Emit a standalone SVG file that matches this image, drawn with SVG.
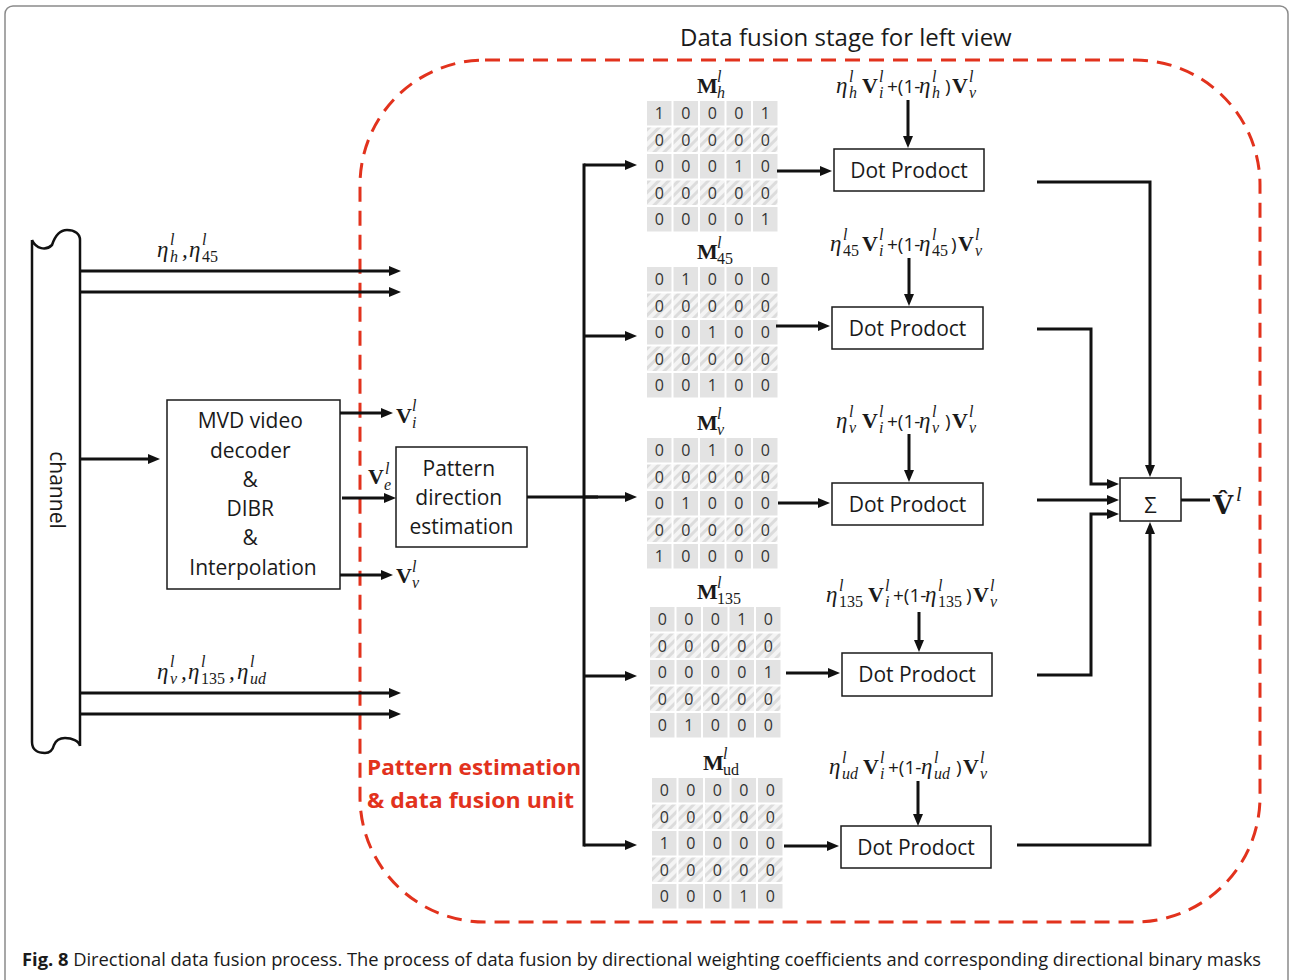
<svg xmlns="http://www.w3.org/2000/svg" width="1291" height="980" viewBox="0 0 1291 980">
<style>
  .sans{font-family:"Open Sans","Liberation Sans",sans-serif;fill:#1a1a1a}
  .lbl{font-size:21px;text-anchor:middle}
  .ser{font-family:"Liberation Serif","DejaVu Serif",serif;fill:#1a1a1a}
  .e{font-style:italic;font-size:23px}
  .bv{font-weight:bold;font-size:22px}
  .sc{font-style:italic;font-size:16px}
  .sn{font-size:16px}
  .op{font-family:"Open Sans","Liberation Sans",sans-serif;font-size:19px}
  .box{fill:#fff;stroke:#1a1a1a;stroke-width:1.5}
  .w{fill:none;stroke:#111;stroke-width:3}
  .a{marker-end:url(#ah)}
  .dg{font-family:"Open Sans","Liberation Sans",sans-serif;font-size:16px;fill:#333;text-anchor:middle}
  .red{font-family:"Open Sans","Liberation Sans",sans-serif;font-weight:bold;font-size:22px;fill:#e2321d}
</style>
<defs>
  <marker id="ah" markerUnits="userSpaceOnUse" markerWidth="12" markerHeight="10" refX="6" refY="5" orient="auto">
    <path d="M0,0 L12,5 L0,10 z" fill="#111"/>
  </marker>
  <pattern id="hatch" width="7" height="7" patternUnits="userSpaceOnUse" patternTransform="rotate(45)">
    <rect width="7" height="7" fill="#f4f4f4"/>
    <rect width="3" height="7" fill="#dcdcdc"/>
  </pattern>
  <!-- one 5-cell row of a binary mask, plain and hatched -->
  <g id="rs" fill="#e3e3e3">
    <rect x="0" width="24.5" height="24.5"/><rect x="26.5" width="24.5" height="24.5"/><rect x="53" width="24.5" height="24.5"/><rect x="79.5" width="24.5" height="24.5"/><rect x="106" width="24.5" height="24.5"/>
  </g>
  <g id="rh" fill="url(#hatch)">
    <rect x="0" width="24.5" height="24.5"/><rect x="26.5" width="24.5" height="24.5"/><rect x="53" width="24.5" height="24.5"/><rect x="79.5" width="24.5" height="24.5"/><rect x="106" width="24.5" height="24.5"/>
  </g>
  <g id="grid">
    <use href="#rs"/><use href="#rh" y="26.5"/><use href="#rs" y="53"/><use href="#rh" y="79.5"/><use href="#rs" y="106"/>
  </g>
</defs>

<rect width="1291" height="980" fill="#fff"/>
<!-- figure frame -->
<rect x="5" y="6" width="1283" height="1000" rx="8" fill="none" stroke="#8a8a8a" stroke-width="1.5"/>

<!-- unit boundary -->
<rect x="360" y="60" width="900" height="862" rx="125" fill="none" stroke="#e2321d" stroke-width="3" stroke-dasharray="15 9"/>
<text class="sans" x="680" y="46" font-size="24">Data fusion stage for left view</text>
<text class="red" x="367" y="775" textLength="214" lengthAdjust="spacingAndGlyphs">Pattern estimation</text>
<text class="red" x="367" y="808" textLength="207" lengthAdjust="spacingAndGlyphs">&amp; data fusion unit</text>

<!-- channel -->
<g id="channel">
  <path d="M32,240 C36,249 46,251 52,245 C55,236 60,230 67,230 C75,230 80,234 80,240 V746 M32,240 V742 C32,750 38,753 45,753 C51,753 53,749 54,745 C56,740 60,738 65,738 C72,738 79,741 80,746" fill="none" stroke="#111" stroke-width="2.5"/>
  <text class="sans" font-size="21" text-anchor="middle" transform="translate(50,490) rotate(90)">channel</text>
</g>

<!-- decoder -->
<g id="decoder">
  <rect class="box" x="167" y="400" width="173" height="189"/>
  <text class="sans lbl" x="253">
    <tspan x="253" y="428">MVD video</tspan>
    <tspan x="253" y="458">decoder</tspan>
    <tspan x="253" y="487">&amp;</tspan>
    <tspan x="253" y="516">DIBR</tspan>
    <tspan x="253" y="545">&amp;</tspan>
    <tspan x="253" y="575">Interpolation</tspan>
  </text>
</g>

<!-- pattern direction estimation -->
<g id="pattern">
  <rect class="box" x="396" y="447" width="131" height="100"/>
  <text class="sans lbl">
    <tspan x="461.5" y="476">Pattern</tspan>
    <tspan x="461.5" y="505">direction</tspan>
    <tspan x="461.5" y="534">estimation</tspan>
  </text>
</g>

<!-- binary masks -->
<g id="mask-h" transform="translate(647,101)">
  <use href="#grid"/>
  <text class="dg" x="12.25 38.75 65.25 91.75 118.25" y="18">10001</text>
  <text class="dg" x="12.25 38.75 65.25 91.75 118.25" y="44.5">00000</text>
  <text class="dg" x="12.25 38.75 65.25 91.75 118.25" y="71">00010</text>
  <text class="dg" x="12.25 38.75 65.25 91.75 118.25" y="97.5">00000</text>
  <text class="dg" x="12.25 38.75 65.25 91.75 118.25" y="124">00001</text>
  <text class="ser"><tspan class="bv" x="50" y="-8">M</tspan><tspan class="sc" x="70" y="-19">l</tspan><tspan class="sc" x="70" y="-3">h</tspan></text>
</g>
<g id="mask-45" transform="translate(647,267)">
  <use href="#grid"/>
  <text class="dg" x="12.25 38.75 65.25 91.75 118.25" y="18">01000</text>
  <text class="dg" x="12.25 38.75 65.25 91.75 118.25" y="44.5">00000</text>
  <text class="dg" x="12.25 38.75 65.25 91.75 118.25" y="71">00100</text>
  <text class="dg" x="12.25 38.75 65.25 91.75 118.25" y="97.5">00000</text>
  <text class="dg" x="12.25 38.75 65.25 91.75 118.25" y="124">00100</text>
  <text class="ser"><tspan class="bv" x="50" y="-8">M</tspan><tspan class="sc" x="70" y="-19">l</tspan><tspan class="sn" x="70" y="-3">45</tspan></text>
</g>
<g id="mask-v" transform="translate(647,438)">
  <use href="#grid"/>
  <text class="dg" x="12.25 38.75 65.25 91.75 118.25" y="18">00100</text>
  <text class="dg" x="12.25 38.75 65.25 91.75 118.25" y="44.5">00000</text>
  <text class="dg" x="12.25 38.75 65.25 91.75 118.25" y="71">01000</text>
  <text class="dg" x="12.25 38.75 65.25 91.75 118.25" y="97.5">00000</text>
  <text class="dg" x="12.25 38.75 65.25 91.75 118.25" y="124">10000</text>
  <text class="ser"><tspan class="bv" x="50" y="-8">M</tspan><tspan class="sc" x="70" y="-19">l</tspan><tspan class="sc" x="70" y="-3">v</tspan></text>
</g>
<g id="mask-135" transform="translate(650,607)">
  <use href="#grid"/>
  <text class="dg" x="12.25 38.75 65.25 91.75 118.25" y="18">00010</text>
  <text class="dg" x="12.25 38.75 65.25 91.75 118.25" y="44.5">00000</text>
  <text class="dg" x="12.25 38.75 65.25 91.75 118.25" y="71">00001</text>
  <text class="dg" x="12.25 38.75 65.25 91.75 118.25" y="97.5">00000</text>
  <text class="dg" x="12.25 38.75 65.25 91.75 118.25" y="124">01000</text>
  <text class="ser"><tspan class="bv" x="47" y="-8">M</tspan><tspan class="sc" x="67" y="-19">l</tspan><tspan class="sn" x="67" y="-3">135</tspan></text>
</g>
<g id="mask-ud" transform="translate(652,778)">
  <use href="#grid"/>
  <text class="dg" x="12.25 38.75 65.25 91.75 118.25" y="18">00000</text>
  <text class="dg" x="12.25 38.75 65.25 91.75 118.25" y="44.5">00000</text>
  <text class="dg" x="12.25 38.75 65.25 91.75 118.25" y="71">10000</text>
  <text class="dg" x="12.25 38.75 65.25 91.75 118.25" y="97.5">00000</text>
  <text class="dg" x="12.25 38.75 65.25 91.75 118.25" y="124">00010</text>
  <text class="ser"><tspan class="bv" x="51" y="-8">M</tspan><tspan class="sc" x="71" y="-19">l</tspan><tspan class="sn" x="71" y="-3">ud</tspan></text>
</g>

<!-- weighted view blends -->
<g id="blend-h"><text class="ser"><tspan class="e" x="836" y="93">η</tspan><tspan class="sc" x="849" y="82">l</tspan><tspan class="sc" x="849" y="98">h</tspan><tspan class="bv" x="862" y="93">V</tspan><tspan class="sc" x="879" y="82">l</tspan><tspan class="sc" x="879" y="98">i</tspan><tspan class="op" x="887" y="93">+(1-</tspan><tspan class="e" x="919" y="93">η</tspan><tspan class="sc" x="932" y="82">l</tspan><tspan class="sc" x="932" y="98">h</tspan><tspan class="op" x="945" y="93">)</tspan><tspan class="bv" x="952" y="93">V</tspan><tspan class="sc" x="969" y="82">l</tspan><tspan class="sc" x="969" y="98">v</tspan></text></g>
<g id="blend-45"><text class="ser"><tspan class="e" x="830" y="251">η</tspan><tspan class="sc" x="843" y="240">l</tspan><tspan class="sn" x="843" y="256">45</tspan><tspan class="bv" x="862" y="251">V</tspan><tspan class="sc" x="879" y="240">l</tspan><tspan class="sc" x="879" y="256">i</tspan><tspan class="op" x="887" y="251">+(1-</tspan><tspan class="e" x="919" y="251">η</tspan><tspan class="sc" x="932" y="240">l</tspan><tspan class="sn" x="932" y="256">45</tspan><tspan class="op" x="951" y="251">)</tspan><tspan class="bv" x="958" y="251">V</tspan><tspan class="sc" x="975" y="240">l</tspan><tspan class="sc" x="975" y="256">v</tspan></text></g>
<g id="blend-v"><text class="ser"><tspan class="e" x="836" y="428">η</tspan><tspan class="sc" x="849" y="417">l</tspan><tspan class="sc" x="849" y="433">v</tspan><tspan class="bv" x="862" y="428">V</tspan><tspan class="sc" x="879" y="417">l</tspan><tspan class="sc" x="879" y="433">i</tspan><tspan class="op" x="887" y="428">+(1-</tspan><tspan class="e" x="919" y="428">η</tspan><tspan class="sc" x="932" y="417">l</tspan><tspan class="sc" x="932" y="433">v</tspan><tspan class="op" x="945" y="428">)</tspan><tspan class="bv" x="952" y="428">V</tspan><tspan class="sc" x="969" y="417">l</tspan><tspan class="sc" x="969" y="433">v</tspan></text></g>
<g id="blend-135"><text class="ser"><tspan class="e" x="826" y="602">η</tspan><tspan class="sc" x="839" y="591">l</tspan><tspan class="sn" x="839" y="607">135</tspan><tspan class="bv" x="868" y="602">V</tspan><tspan class="sc" x="885" y="591">l</tspan><tspan class="sc" x="885" y="607">i</tspan><tspan class="op" x="893" y="602">+(1-</tspan><tspan class="e" x="925" y="602">η</tspan><tspan class="sc" x="938" y="591">l</tspan><tspan class="sn" x="938" y="607">135</tspan><tspan class="op" x="966" y="602">)</tspan><tspan class="bv" x="973" y="602">V</tspan><tspan class="sc" x="990" y="591">l</tspan><tspan class="sc" x="990" y="607">v</tspan></text></g>
<g id="blend-ud"><text class="ser"><tspan class="e" x="829" y="774">η</tspan><tspan class="sc" x="842" y="763">l</tspan><tspan class="sc" x="842" y="779">ud</tspan><tspan class="bv" x="863" y="774">V</tspan><tspan class="sc" x="880" y="763">l</tspan><tspan class="sc" x="880" y="779">i</tspan><tspan class="op" x="888" y="774">+(1-</tspan><tspan class="e" x="921" y="774">η</tspan><tspan class="sc" x="934" y="763">l</tspan><tspan class="sc" x="934" y="779">ud</tspan><tspan class="op" x="956" y="774">)</tspan><tspan class="bv" x="963" y="774">V</tspan><tspan class="sc" x="980" y="763">l</tspan><tspan class="sc" x="980" y="779">v</tspan></text></g>

<!-- dot products -->
<g id="dot-h"><rect class="box" x="834" y="149" width="150" height="42"/><text class="sans lbl" x="909" y="177.5">Dot Prodoct</text></g>
<g id="dot-45"><rect class="box" x="832" y="307" width="151" height="42"/><text class="sans lbl" x="907.5" y="335.5">Dot Prodoct</text></g>
<g id="dot-v"><rect class="box" x="832" y="483" width="151" height="42"/><text class="sans lbl" x="907.5" y="511.5">Dot Prodoct</text></g>
<g id="dot-135"><rect class="box" x="842" y="653" width="150" height="43"/><text class="sans lbl" x="917" y="682">Dot Prodoct</text></g>
<g id="dot-ud"><rect class="box" x="841" y="826" width="150" height="42"/><text class="sans lbl" x="916" y="854.5">Dot Prodoct</text></g>

<!-- summation -->
<g id="sum">
  <rect class="box" x="1120" y="478" width="61" height="43"/>
  <text class="sans" x="1150.5" y="513" font-size="22" text-anchor="middle">Σ</text>
</g>

<!-- signal labels -->
<g id="labels">
  <text class="ser"><tspan class="e" x="157" y="257">η</tspan><tspan class="sc" x="170" y="245">l</tspan><tspan class="sc" x="170" y="262">h</tspan><tspan class="e" x="182" y="257">,</tspan><tspan class="e" x="189" y="257">η</tspan><tspan class="sc" x="202" y="245">l</tspan><tspan class="sn" x="202" y="262">45</tspan></text>
  <text class="ser"><tspan class="e" x="157" y="679">η</tspan><tspan class="sc" x="170" y="667">l</tspan><tspan class="sc" x="170" y="684">v</tspan><tspan class="e" x="181" y="679">,</tspan><tspan class="e" x="188" y="679">η</tspan><tspan class="sc" x="201" y="667">l</tspan><tspan class="sn" x="201" y="684">135</tspan><tspan class="e" x="229" y="679">,</tspan><tspan class="e" x="237" y="679">η</tspan><tspan class="sc" x="250" y="667">l</tspan><tspan class="sc" x="250" y="684">ud</tspan></text>
  <text class="ser"><tspan class="bv" x="396" y="423">V</tspan><tspan class="sc" x="412" y="411">l</tspan><tspan class="sc" x="412" y="428">i</tspan></text>
  <text class="ser"><tspan class="bv" x="368" y="484">V</tspan><tspan class="sc" x="385" y="474">l</tspan><tspan class="sc" x="384" y="490">e</tspan></text>
  <text class="ser"><tspan class="bv" x="396" y="583">V</tspan><tspan class="sc" x="412" y="572">l</tspan><tspan class="sc" x="412" y="588">v</tspan></text>
  <text style="font-family:'DejaVu Serif',serif;font-weight:bold;font-size:26px;fill:#1a1a1a" x="1213" y="514">V̂</text>
  <text class="ser" x="1236" y="501" style="font-style:italic;font-size:20px">l</text>
</g>

<!-- connectors -->
<g id="connectors">
  <path class="w a" d="M80,271 H395"/>
  <path class="w a" d="M80,292 H395"/>
  <path class="w a" d="M80,693 H395"/>
  <path class="w a" d="M80,714 H395"/>
  <path class="w a" d="M80,459 H154"/>
  <path class="w a" d="M340,413 H387"/>
  <path class="w a" d="M342,498 H390"/>
  <path class="w a" d="M340,575 H387"/>
  <path class="w" d="M527,497 H598"/>
  <path class="w" d="M584,163.5 V846.5"/>
  <path class="w a" d="M584,165 H631"/>
  <path class="w a" d="M584,336 H631"/>
  <path class="w a" d="M584,497 H631"/>
  <path class="w a" d="M584,676 H631"/>
  <path class="w a" d="M584,845 H631"/>
  <path class="w a" d="M777,171 H826"/>
  <path class="w a" d="M776,326 H824"/>
  <path class="w a" d="M778,503 H824"/>
  <path class="w a" d="M786,673 H834"/>
  <path class="w a" d="M784,846 H833"/>
  <path class="w a" d="M908,100 V142"/>
  <path class="w a" d="M909,258 V300"/>
  <path class="w a" d="M909,434 V476"/>
  <path class="w a" d="M919,612 V646"/>
  <path class="w a" d="M918,781 V820"/>
  <path class="w a" d="M1037,182 H1150 V471"/>
  <path class="w a" d="M1037,329 H1091 V484 H1113"/>
  <path class="w a" d="M1037,500 H1113"/>
  <path class="w a" d="M1037,675 H1091 V514 H1113"/>
  <path class="w a" d="M1017,845 H1150 V528"/>
  <path class="w" d="M1181,500 H1210"/>
</g>

<!-- caption -->
<text class="sans" x="22" y="966" font-size="18" fill="#222" textLength="1239" lengthAdjust="spacingAndGlyphs"><tspan font-weight="bold">Fig. 8</tspan> Directional data fusion process. The process of data fusion by directional weighting coefficients and corresponding directional binary masks</text>
</svg>
